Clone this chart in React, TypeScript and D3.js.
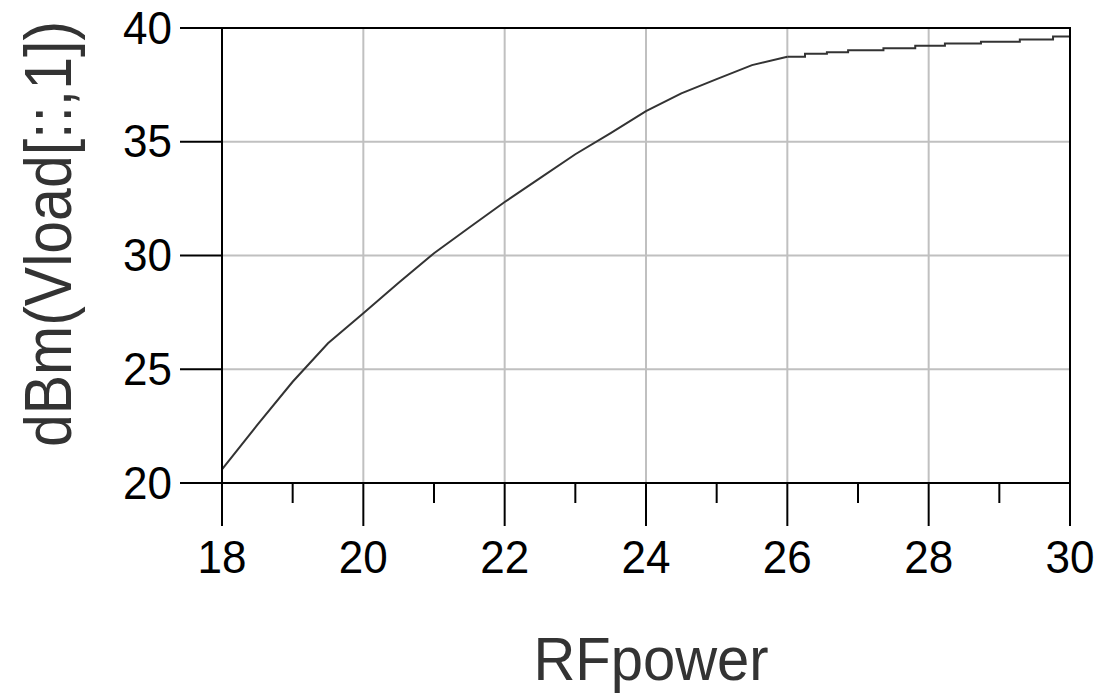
import React, { useEffect, useRef } from "react";
import * as d3 from "d3";

// swept RF input power (smooth region, 0.5 dB steps)
const rfPower = [18, 18.5, 19, 19.5, 20, 20.5, 21, 21.5, 22, 22.5, 23, 23.5, 24, 24.5, 25, 25.5, 26];
const vloadDbm = [20.6, 22.55, 24.45, 26.14, 27.46, 28.8, 30.1, 31.23, 32.35, 33.4, 34.45, 35.38, 36.35, 37.13, 37.75, 38.37, 38.74];

// saturated region, output is quantized so it steps
const stepPower = [26, 26.25, 26.56, 26.86, 27.36, 27.81, 28.23, 28.74, 29.29, 29.76, 30];
const stepDbm = [38.74, 38.87, 38.93, 39.02, 39.11, 39.22, 39.32, 39.4, 39.5, 39.63, 39.63];

const xMajor = [18, 20, 22, 24, 26, 28, 30];
const xMinor = [19, 21, 23, 25, 27, 29];
const yMajor = [20, 25, 30, 35, 40];

const W = 1106;
const H = 697;
const FONT = "'Liberation Sans', Arial, Helvetica, sans-serif";

const App = () => {
  const svgRef = useRef<SVGSVGElement | null>(null);

  useEffect(() => {
    if (!svgRef.current) return;
    const svg = d3.select(svgRef.current);
    svg.selectAll("*").remove();

    const left = 222, right = 1070, top = 28, bottom = 483;

    const x = d3.scaleLinear().domain([18, 30]).range([left, right]);
    const y = d3.scaleLinear().domain([20, 40]).range([bottom, top]);

    // grid
    const grid = svg.append("g").attr("stroke", "#c0c0c0").attr("stroke-width", 2);
    xMajor.filter(v => v > 18 && v < 30).forEach(v => {
      grid.append("line")
        .attr("x1", x(v)).attr("x2", x(v))
        .attr("y1", top).attr("y2", bottom);
    });
    yMajor.filter(v => v > 20 && v < 40).forEach(v => {
      grid.append("line")
        .attr("x1", left).attr("x2", right)
        .attr("y1", y(v)).attr("y2", y(v));
    });

    // data line
    const line = d3.line<[number, number]>().x(d => x(d[0])).y(d => y(d[1]));
    svg.append("path")
      .attr("d", line(rfPower.map((p, i) => [p, vloadDbm[i]])))
      .attr("fill", "none").attr("stroke", "#333").attr("stroke-width", 2);
    svg.append("path")
      .attr("d", line.curve(d3.curveStepAfter)(stepPower.map((p, i) => [p, stepDbm[i]])))
      .attr("fill", "none").attr("stroke", "#333").attr("stroke-width", 2);

    // frame
    const ax = svg.append("g").attr("stroke", "#000").attr("stroke-width", 2);
    ax.append("rect")
      .attr("x", left).attr("y", top)
      .attr("width", right - left).attr("height", bottom - top)
      .attr("fill", "none");

    // y ticks
    yMajor.forEach(v => {
      ax.append("line")
        .attr("x1", left - 42).attr("x2", left)
        .attr("y1", y(v)).attr("y2", y(v));
      svg.append("text")
        .attr("transform", `translate(172, ${y(v) + 15.5}) scale(1, 1.05)`)
        .attr("text-anchor", "end")
        .attr("font-family", FONT).attr("font-size", 44).attr("fill", "#000")
        .text(v);
    });

    // x ticks
    xMajor.forEach(v => {
      ax.append("line")
        .attr("x1", x(v)).attr("x2", x(v))
        .attr("y1", bottom).attr("y2", bottom + 43);
      svg.append("text")
        .attr("transform", `translate(${x(v)}, 573) scale(1, 1.05)`)
        .attr("text-anchor", "middle")
        .attr("font-family", FONT).attr("font-size", 44).attr("fill", "#000")
        .text(v);
    });
    xMinor.forEach(v => {
      ax.append("line")
        .attr("x1", x(v)).attr("x2", x(v))
        .attr("y1", bottom).attr("y2", bottom + 20);
    });

    // axis titles
    svg.append("text")
      .attr("transform", `translate(${(left + right) / 2 + 5}, 680) scale(1, 1.05)`)
      .attr("text-anchor", "middle")
      .attr("font-family", FONT).attr("font-size", 58).attr("fill", "#333")
      .text("RFpower");

    svg.append("text")
      .attr("transform", `translate(71, 234) rotate(-90) scale(1, 1.12)`)
      .attr("text-anchor", "middle")
      .attr("font-family", FONT).attr("font-size", 59).attr("fill", "#333")
      .text("dBm(Vload[::,1])");
  }, []);

  return (
    <svg
      ref={svgRef}
      width={W}
      height={H}
      style={{ position: "absolute", left: 0, top: 0, background: "#fff" }}
    />
  );
};

export default App;
